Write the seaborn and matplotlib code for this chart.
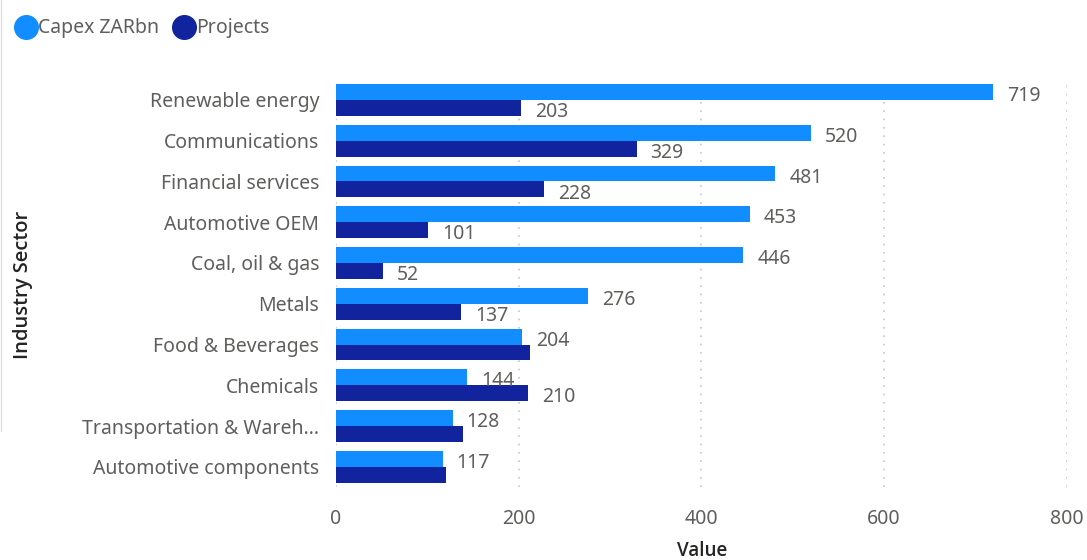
import matplotlib
matplotlib.use("Agg")
import matplotlib.pyplot as plt
import seaborn as sns
import pandas as pd
from matplotlib.lines import Line2D

sectors = ["Renewable energy", "Communications", "Financial services", "Automotive OEM",
           "Coal, oil & gas", "Metals", "Food & Beverages", "Chemicals",
           "Transportation & Wareh...", "Automotive components"]
capex = [719, 520, 481, 453, 446, 276, 204, 144, 128, 117]
projects = [203, 329, 228, 101, 52, 137, 212, 210, 139, 121]
# data labels hidden in the reference (overlap suppression)
projects_label_shown = [True, True, True, True, True, True, False, True, False, False]
series_names = ["Capex ZARbn", "Projects"]
colors = ["#118DFF", "#12239E"]
xticks = [0, 200, 400, 600, 800]

df = pd.DataFrame({
    "Industry Sector": sectors * 2,
    "Series": [series_names[0]] * len(sectors) + [series_names[1]] * len(sectors),
    "Value": capex + projects,
})

sns.set_theme(style="white")
plt.rcParams["font.family"] = ["Noto Sans", "DejaVu Sans"]

fig = plt.figure(figsize=(10.87, 5.6), dpi=100)
ax = fig.add_axes([0.309, 0.13, 0.6725, 0.728])

sns.barplot(data=df, y="Industry Sector", x="Value", hue="Series", order=sectors,
            hue_order=series_names, palette=colors, orient="h", width=0.78,
            ax=ax, legend=False, saturation=1, linewidth=0, edgecolor="none")

label_color = "#605E5C"
shown = [[True] * len(sectors), projects_label_shown]
for cont, flags in zip(ax.containers, shown):
    labels = [f"{int(round(p.get_width()))}" if f else "" for p, f in zip(cont.patches, flags)]
    texts = ax.bar_label(cont, labels=labels, padding=10, fontsize=14, color=label_color)
    for t in texts:
        x0, y0 = t.xyann
        t.xyann = (x0, y0 - 3)

ax.set_xlim(0, 800)
ax.set_xticks(xticks)
ax.set_xticklabels([str(t) for t in xticks])
ax.tick_params(axis="x", labelsize=14, colors=label_color, length=0, pad=16)
ax.tick_params(axis="y", labelsize=14, colors=label_color, length=0, pad=12)
for s in ax.spines.values():
    s.set_visible(False)
ax.grid(axis="x", linestyle=(0, (1, 4)), color="#C8C6C4", linewidth=1.2)
ax.set_axisbelow(True)

ax.set_xlabel("")
ax.set_ylabel("")
title_family = ["Open Sans", "DejaVu Sans"]
fig.text(702 / 1087, 1 - 551 / 560, "Value", fontsize=13.5, color="#252423",
         fontweight="semibold", family=title_family, ha="center", va="center")
fig.text(23 / 1087, 1 - 285 / 560, "Industry Sector", rotation=90, fontsize=14.5,
         color="#252423", fontweight="semibold", family=title_family, ha="center", va="center")

handles = [Line2D([0], [0], marker="o", linestyle="", markersize=17,
                  markerfacecolor=c, markeredgecolor=c) for c in colors]
fig.legend(handles, series_names, loc="upper left", bbox_to_anchor=(-0.004, 0.995),
           frameon=False, fontsize=14, handletextpad=-0.1, columnspacing=0.5,
           ncol=2, labelcolor=label_color, borderaxespad=0.4, handlelength=1.5)

fig.add_artist(Line2D([0.0005, 0.0005], [1.0, 0.23], transform=fig.transFigure,
                      color="#E1DFDD", linewidth=1))

fig.savefig("out.png", dpi=100)
